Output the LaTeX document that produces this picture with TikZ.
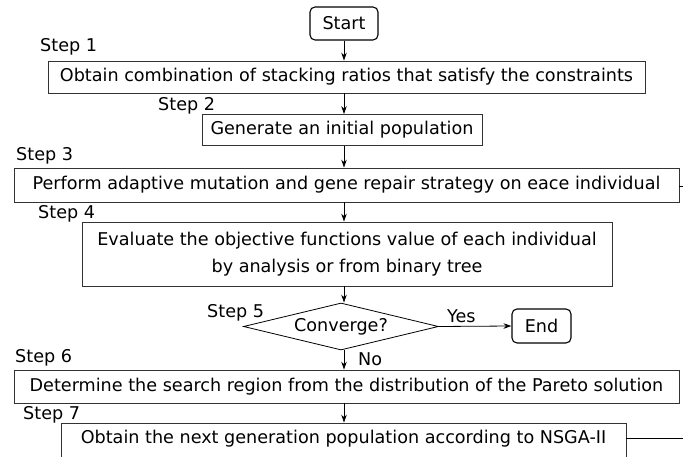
\documentclass[tikz,border=0pt]{standalone}
\usepackage{fontspec}
\setmainfont{DejaVu Sans}
\usetikzlibrary{arrows.meta,shapes.geometric}
\begin{document}
\begin{tikzpicture}[x=1pt,y=-1pt,
  every node/.style={font=\fontsize{17.6}{27}\selectfont},
  stepbox/.style={draw=black!80,line width=0.8pt,inner sep=0pt,anchor=center},
  termbox/.style={draw=black,line width=1.1pt,rounded corners=5pt,inner sep=0pt,anchor=center},
  steplabel/.style={anchor=base west,inner sep=0pt},
  arr/.style={draw=black,line width=0.8pt,-{Stealth[length=8pt,width=5.5pt]}},
  conn/.style={draw=black,line width=0.8pt}]
\useasboundingbox (0,0) rectangle (683,457);
\clip (0,0) rectangle (683,457);
\node[termbox,minimum width=68pt,minimum height=33pt] (start) at (344,23.5) {Start};
\node[stepbox,minimum width=597pt,minimum height=32pt] (b1) at (346.5,77) {Obtain combination of stacking ratios that satisfy the constraints};
\node[stepbox,minimum width=280pt,minimum height=31pt] (b2) at (342,130) {Generate an initial population};
\node[stepbox,minimum width=665pt,minimum height=34pt] (b3) at (346.5,185) {Perform adaptive mutation and gene repair strategy on eace individual};
\node[stepbox,minimum width=530pt,minimum height=64pt,align=center] (b4) at (347,254) {Evaluate the objective functions value of each individual\\by analysis or from binary tree};
\node[draw=black,line width=0.8pt,diamond,aspect=4.15,minimum width=195pt,minimum height=47pt,inner sep=0pt] (dia) at (341,326.5) {Converge?};
\node[termbox,minimum width=59pt,minimum height=34pt] (end) at (541.5,326) {End};
\node[stepbox,minimum width=665pt,minimum height=33pt] (b6) at (346.5,386.5) {Determine the search region from the distribution of the Pareto solution};
\node[stepbox,minimum width=565pt,minimum height=46pt] (b7) at (343.5,446) {};
\node[anchor=base,inner sep=0pt] (t7) at (343.5,443) {Obtain the next generation population according to NSGA-II};
\node[steplabel] (s1) at (40,52) {Step 1};
\node[steplabel] (s2) at (158,111) {Step 2};
\node[steplabel] (s3) at (16,161) {Step 3};
\node[steplabel] (s4) at (38,219) {Step 4};
\node[steplabel] (s5) at (207,317) {Step 5};
\node[steplabel] (s6) at (15,362) {Step 6};
\node[steplabel] (s7) at (23,419) {Step 7};
\node[steplabel] (yes) at (447,322) {Yes};
\node[steplabel] (no) at (358,365) {No};
\coordinate (ax) at (344,0);
\draw[arr] (start.south -| ax) -- (b1.north -| ax);
\draw[arr] (b1.south -| ax) -- (b2.north -| ax);
\draw[arr] (b2.south -| ax) -- (b3.north -| ax);
\draw[arr] (b3.south -| ax) -- (b4.north -| ax);
\draw[arr] (b4.south -| ax) -- (dia.north -| ax);
\draw[arr] (dia.south -| ax) -- (b6.north -| ax);
\draw[arr] (b6.south -| ax) -- (b7.north -| ax);
\draw[arr] (dia.east) -- (end.west);
\coordinate (r3) at (683,186);
\coordinate (r7) at (683,438);
\draw[conn] (b3.east |- r3) -- (r3);
\draw[conn] (b7.east |- r7) -- (r7);
\end{tikzpicture}
\end{document}
